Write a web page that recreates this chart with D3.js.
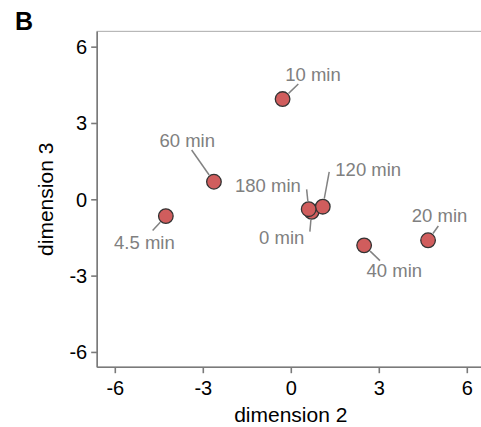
<!DOCTYPE html>
<html><head><meta charset="utf-8">
<script src="https://cdn.jsdelivr.net/npm/d3@7"></script>
<style>html,body{margin:0;padding:0;background:#fff;} svg{display:block;font-family:"Liberation Sans",Arial,sans-serif;}</style>
</head><body>
<svg id="c" width="481" height="427"></svg>
<script>
// data
const labels = ["0 min","4.5 min","10 min","20 min","40 min","60 min","120 min","180 min"];
const dim2   = [0.71, -4.26, -0.28, 4.68, 2.50, -2.62, 1.09, 0.61];
const dim3   = [-0.49, -0.66, 3.94, -1.61, -1.81, 0.69, -0.29, -0.39];
// repelled label anchors (data units)
const labelX = [-0.31, -4.99, 0.757, 5.07, 3.53, -3.53, 2.64, -0.78];
const labelY = [-1.76, -1.95, 4.65, -0.88, -3.04, 2.07, 0.92, 0.30];
// leader segment ends (data units)
const segX = [0.65, -4.71, 0.256, 5.03, 3.04, -3.38, 1.31, 0.54];
const segY = [-1.27, -1.23, 4.53, -1.05, -2.41, 1.94, 1.08, 0.39];
const ticks = [-6, -3, 0, 3, 6];
const tickLabels = ["-6", "-3", "0", "3", "6"];

const svg = d3.select("#c");
const x = d3.scaleLinear().domain([-6.6, 6.6]).range([97.2, 484.4]);
const y = d3.scaleLinear().domain([-6.6, 6.6]).range([367.2, 31.4]);
const fmt = d => tickLabels[ticks.indexOf(d)];

// panel border (light)
svg.append("rect").attr("x", x(-6.6)).attr("y", y(6.6))
  .attr("width", x(6.6) - x(-6.6)).attr("height", y(-6.6) - y(6.6))
  .attr("fill", "none").attr("stroke", "#b8b8b8").attr("stroke-width", 1.2);

// axes
const xAxis = svg.append("g").attr("transform", `translate(0,${y(-6.6)})`)
  .call(d3.axisBottom(x).tickValues(ticks).tickSize(6).tickPadding(4).tickFormat(fmt));
const yAxis = svg.append("g").attr("transform", `translate(${x(-6.6)},0)`)
  .call(d3.axisLeft(y).tickValues(ticks).tickSize(6).tickPadding(4).tickFormat(fmt));
[xAxis, yAxis].forEach(g => {
  g.select(".domain").attr("stroke", "#7a7a7a").attr("stroke-width", 1.6)
    .attr("d", g === xAxis ? `M${x(-6.6)},0H${x(6.6)}` : `M0,${y(6.6)}V${y(-6.6)}`);
  g.selectAll(".tick line").attr("stroke", "#7a7a7a").attr("stroke-width", 1.6);
  g.selectAll(".tick text").attr("fill", "#000").style("font-size", "20px")
    .style("font-family", '"Liberation Sans",Arial,sans-serif');
});
xAxis.selectAll(".tick text").attr("dy", "0.9em");
yAxis.selectAll(".tick text").attr("dy", "0.35em");

// axis titles
svg.append("text").attr("x", (x(-6.6) + x(6.6)) / 2).attr("y", 421.5)
  .attr("text-anchor", "middle").style("font-size", "21px").attr("fill", "#000").text("dimension 2");
svg.append("text").attr("transform", `translate(53.3,${(y(6.6) + y(-6.6)) / 2}) rotate(-90)`)
  .attr("text-anchor", "middle").style("font-size", "21px").attr("fill", "#000").text("dimension 3");

// panel tag
svg.append("text").attr("x", 15).attr("y", 30).style("font-size", "25px")
  .style("font-weight", "bold").attr("fill", "#000").text("B");

const r = 7.3;
const idx = d3.range(labels.length);

// leader segments
svg.append("g").selectAll("line").data(idx).join("line")
  .each(function(i) {
    const px = x(dim2[i]), py = y(dim3[i]);
    const ex = x(segX[i]), ey = y(segY[i]);
    const dx = ex - px, dy = ey - py, L = Math.hypot(dx, dy);
    const t = (r + 1) / L;
    d3.select(this).attr("x1", px + dx * t).attr("y1", py + dy * t).attr("x2", ex).attr("y2", ey);
  })
  .attr("stroke", "#828282").attr("stroke-width", 1.5);

// points
svg.append("g").selectAll("circle").data(idx).join("circle")
  .attr("cx", i => x(dim2[i])).attr("cy", i => y(dim3[i])).attr("r", r)
  .attr("fill", "#d05d5d").attr("stroke", "#333").attr("stroke-width", 1.3);

// labels
svg.append("g").selectAll("text").data(idx).join("text")
  .attr("x", i => x(labelX[i])).attr("y", i => y(labelY[i]))
  .attr("text-anchor", "middle").style("font-size", "18.5px").attr("fill", "#808080")
  .text(i => labels[i]);
</script>
</body></html>
